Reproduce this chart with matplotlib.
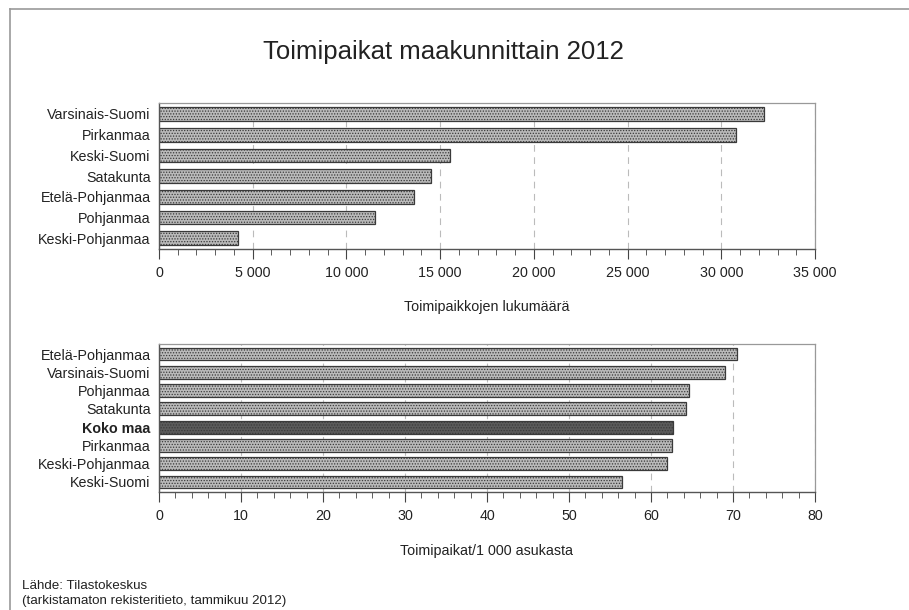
import matplotlib
matplotlib.use("Agg")
import matplotlib.pyplot as plt
from matplotlib.ticker import MultipleLocator, FuncFormatter
from matplotlib.lines import Line2D

plt.rcParams['font.family'] = ['Liberation Sans', 'DejaVu Sans']
plt.rcParams['hatch.color'] = '#8e8e8e'
plt.rcParams['hatch.linewidth'] = 0.6

# Top chart data
regions_top = ["Varsinais-Suomi", "Pirkanmaa", "Keski-Suomi", "Satakunta",
               "Etelä-Pohjanmaa", "Pohjanmaa", "Keski-Pohjanmaa"]
counts_top = [32300, 30800, 15500, 14500, 13600, 11500, 4200]

# Bottom chart data
regions_bot = ["Etelä-Pohjanmaa", "Varsinais-Suomi", "Pohjanmaa", "Satakunta",
               "Koko maa", "Pirkanmaa", "Keski-Pohjanmaa", "Keski-Suomi"]
per1000_bot = [70.5, 69.0, 64.6, 64.3, 62.7, 62.6, 61.9, 56.5]

title = "Toimipaikat maakunnittain 2012"
xlabel_top = "Toimipaikkojen lukumäärä"
xlabel_bot = "Toimipaikat/1 000 asukasta"
source_lines = ["Lähde: Tilastokeskus", "(tarkistamaton rekisteritieto, tammikuu 2012)"]

W, H = 909, 610
FS = 10.3
fig = plt.figure(figsize=(W / 100, H / 100), dpi=100)

def ax_rect(l, t, r, b):
    return [l / W, 1 - b / H, (r - l) / W, (b - t) / H]

def thousands(x, pos):
    return f"{int(x):,}".replace(",", " ")

def style(ax):
    ax.tick_params(axis='y', length=0, labelsize=FS, pad=6)
    ax.tick_params(axis='x', which='major', length=7, color='#444444', labelsize=FS, pad=5, labelcolor='#222222')
    ax.tick_params(axis='x', which='minor', length=4, color='#444444')
    for s in ['top', 'right']:
        ax.spines[s].set_color('#999999')
        ax.spines[s].set_linewidth(0.9)
    for s in ['left', 'bottom']:
        ax.spines[s].set_color('#555555')
        ax.spines[s].set_linewidth(1.0)
    ax.grid(axis='x', which='major', linestyle=(0, (6, 5)), color='#bbbbbb', linewidth=0.8)
    ax.set_axisbelow(True)

bar_face = '#bababa'
bar_edge = '#3a3a3a'

# Top axes
ax1 = fig.add_axes(ax_rect(159, 103, 815, 249))
ax1.barh(range(len(regions_top)), counts_top, height=0.66,
         color=bar_face, edgecolor=bar_edge, linewidth=0.9, hatch='......')
ax1.set_xlim(0, 35000)
ax1.xaxis.set_major_locator(MultipleLocator(5000))
ax1.xaxis.set_minor_locator(MultipleLocator(1000))
ax1.xaxis.set_major_formatter(FuncFormatter(thousands))
ax1.set_yticks(range(len(regions_top)))
ax1.set_yticklabels(regions_top, color='#222222')
style(ax1)
ax1.set_ylim(len(regions_top) - 0.48, -0.53)
ax1.set_xlabel(xlabel_top, fontsize=FS, labelpad=15, color='#222222')

# Bottom axes
ax2 = fig.add_axes(ax_rect(159, 344, 815, 492))
colors = ['#5a5a5a' if r == "Koko maa" else bar_face for r in regions_bot]
ax2.barh(range(len(regions_bot)), per1000_bot, height=0.7,
         color=colors, edgecolor=bar_edge, linewidth=0.9, hatch='......')
ax2.set_xlim(0, 80)
ax2.xaxis.set_major_locator(MultipleLocator(10))
ax2.xaxis.set_minor_locator(MultipleLocator(2))
ax2.set_yticks(range(len(regions_bot)))
ax2.set_yticklabels(regions_bot, color='#222222')
style(ax2)
ax2.set_ylim(len(regions_bot) - 0.45, -0.55)
for lbl in ax2.get_yticklabels():
    if lbl.get_text() == "Koko maa":
        lbl.set_fontweight('bold')
ax2.set_xlabel(xlabel_bot, fontsize=FS, labelpad=15, color='#222222')

# Title
fig.text(443 / W, 1 - 52 / H, title, fontsize=18.5, ha='center', va='center', color='#222222')

# Source
fig.text(22 / W, 1 - 586 / H, source_lines[0], fontsize=9.6, ha='left', va='center', color='#222222')
fig.text(22 / W, 1 - 601 / H, source_lines[1], fontsize=9.6, ha='left', va='center', color='#222222')

# Frame lines (top and left)
fig.add_artist(Line2D([10 / W, 1.0], [1 - 9 / H, 1 - 9 / H], color='#999999', linewidth=1.2))
fig.add_artist(Line2D([10 / W, 10 / W], [0, 1 - 9 / H], color='#999999', linewidth=1.2))

fig.savefig("out.png", dpi=100)
